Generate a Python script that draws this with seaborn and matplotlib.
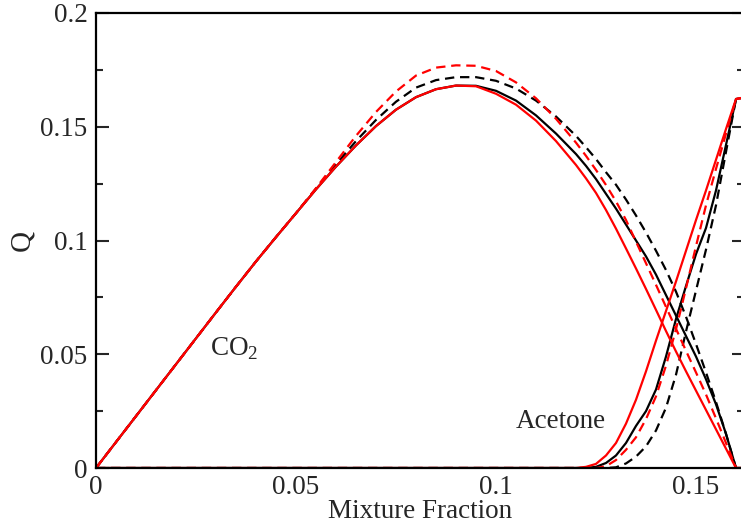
import numpy as np
import pandas as pd
import matplotlib
matplotlib.use("Agg")
import matplotlib.pyplot as plt
from matplotlib.ticker import MultipleLocator, FixedLocator
import seaborn as sns

# ---- data ----
mixture_fraction = [0, 0.005, 0.01, 0.015, 0.02, 0.025, 0.03, 0.035, 0.04, 0.045,
                    0.05, 0.055, 0.06, 0.065, 0.07, 0.075, 0.08, 0.085, 0.09, 0.095,
                    0.1, 0.105, 0.11, 0.115, 0.12, 0.1225, 0.125, 0.1275, 0.13, 0.1325,
                    0.135, 0.1375, 0.14, 0.1425, 0.145, 0.1475, 0.15, 0.1525, 0.155,
                    0.1575, 0.16, 0.1625]

rise = [0, 0.0114, 0.0228, 0.0342, 0.0456, 0.057, 0.0684, 0.0797, 0.0908, 0.1015, 0.112]

co2_black_solid = rise + [0.1225, 0.1325, 0.1418, 0.1503, 0.1575, 0.1630, 0.1665, 0.1681, 0.1680,
                          0.1658, 0.1615, 0.155, 0.147, 0.138, 0.1328, 0.127, 0.1205, 0.114, 0.107,
                          0.100, 0.093, 0.085, 0.076, 0.067, 0.058, 0.049, 0.039, 0.028,
                          0.015, 0.0, 0.0]
co2_red_solid = rise + [0.1225, 0.1325, 0.1418, 0.1503, 0.1575, 0.1630, 0.1665, 0.1681, 0.1678,
                        0.1645, 0.1597, 0.1527, 0.1437, 0.1332, 0.1273, 0.1209, 0.1134, 0.1052, 0.0965,
                        0.0877, 0.0787, 0.0695, 0.0602, 0.0512, 0.0425, 0.034, 0.0255, 0.017,
                        0.0085, 0.0, 0.0]
co2_black_dashed = rise + [0.1228, 0.1335, 0.1437, 0.153, 0.161, 0.1672, 0.1705, 0.1718, 0.1718,
                           0.1702, 0.1668, 0.1615, 0.1545, 0.146, 0.141, 0.1358, 0.130, 0.1245, 0.118,
                           0.111, 0.1035, 0.0955, 0.087, 0.0775, 0.0665, 0.0545, 0.042, 0.029,
                           0.015, 0.0, 0.0]
co2_red_dashed = rise + [0.123, 0.1345, 0.146, 0.1565, 0.1655, 0.1725, 0.1760, 0.1770, 0.1768,
                         0.1745, 0.1695, 0.1625, 0.1535, 0.1430, 0.1372, 0.1310, 0.1244, 0.1172, 0.1090,
                         0.0995, 0.0900, 0.0805, 0.0708, 0.0612, 0.0515, 0.042, 0.0323, 0.0218,
                         0.011, 0.0, 0.0]

zeros24 = [0.0] * 24
ace_red_solid = zeros24 + [0.0, 0.0005, 0.0018, 0.0055, 0.011, 0.0195, 0.030, 0.0425, 0.056, 0.069,
                           0.082, 0.0955, 0.109, 0.122, 0.1355, 0.149, 0.1622, 0.163]
ace_black_solid = zeros24 + [0.0, 0.0, 0.0005, 0.0022, 0.0055, 0.011, 0.0185, 0.025, 0.0345, 0.049,
                             0.0655, 0.080, 0.094, 0.1055, 0.122, 0.142, 0.1622, 0.163]
ace_red_dashed = zeros24 + [0.0, 0.0, 0.0, 0.0008, 0.0035, 0.008, 0.0135, 0.0215, 0.0315, 0.045,
                            0.061, 0.079, 0.0975, 0.1155, 0.1315, 0.147, 0.1622, 0.163]
ace_black_dashed = zeros24 + [0.0, 0.0, 0.0, 0.0, 0.0003, 0.002, 0.005, 0.0095, 0.0165, 0.0265,
                              0.041, 0.060, 0.078, 0.096, 0.1155, 0.139, 0.1622, 0.163]

x_ticks = [0, 0.05, 0.1, 0.15]
x_tick_labels = ["0", "0.05", "0.1", "0.15"]
y_ticks = [0, 0.05, 0.1, 0.15, 0.2]
y_tick_labels = ["0", "0.05", "0.1", "0.15", "0.2"]

# ---- style ----
sns.set_style("ticks")
plt.rcParams["font.family"] = ["Liberation Serif", "DejaVu Serif"]
plt.rcParams["mathtext.fontset"] = "custom"
plt.rcParams["mathtext.rm"] = "Liberation Serif"

fig = plt.figure(figsize=(7.41, 5.26), dpi=100)
ax = fig.add_axes([96 / 741, 1 - 468 / 526, (744 - 96) / 741, (468 - 13) / 526])

series = [
    (co2_black_dashed, "black", "--"),
    (ace_black_dashed, "black", "--"),
    (co2_black_solid, "black", "-"),
    (ace_black_solid, "black", "-"),
    (co2_red_dashed, "red", "--"),
    (ace_red_dashed, "red", "--"),
    (co2_red_solid, "red", "-"),
    (ace_red_solid, "red", "-"),
]
for vals, col, ls in series:
    df = pd.DataFrame({"Z": mixture_fraction, "Q": vals})
    sns.lineplot(data=df, x="Z", y="Q", ax=ax, color=col, lw=1.6,
                 estimator=None, sort=False)
    l = ax.lines[-1]
    if ls == "--":
        l.set_dashes((4.2, 2.6))

ax.set_xlim(0, 0.162)
ax.set_ylim(0, 0.2)
ax.xaxis.set_major_locator(FixedLocator(x_ticks))
ax.set_xticklabels(x_tick_labels)
ax.yaxis.set_major_locator(FixedLocator(y_ticks))
ax.set_yticklabels(y_tick_labels)
ax.yaxis.set_minor_locator(MultipleLocator(0.025))

ax.tick_params(axis="y", which="major", direction="in", length=9, width=1.5,
               left=True, right=True, labelsize=19.5, pad=6)
ax.tick_params(axis="y", which="minor", direction="in", length=5, width=1.5,
               left=True, right=True)
ax.tick_params(axis="x", which="both", length=0, labelsize=19.5, pad=5)

for s in ax.spines.values():
    s.set_linewidth(1.6)
    s.set_color("black")

ax.set_xlabel("Mixture Fraction", fontsize=19.5, labelpad=-1)
ax.set_ylabel("Q", fontsize=21, labelpad=4)

ax.text(0.0285, 0.0525, "CO$_2$", fontsize=19.5, ha="left", va="center")
ax.text(0.105, 0.0205, "Acetone", fontsize=19.5, ha="left", va="center")

fig.savefig("out.png", dpi=100)
